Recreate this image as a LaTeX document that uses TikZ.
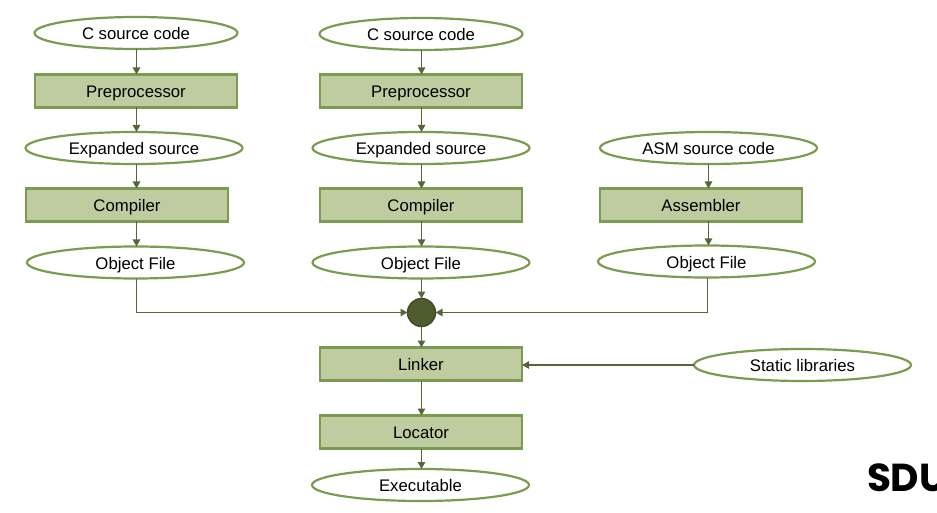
\documentclass[tikz,border=0pt]{standalone}
\usepackage{fontspec}
\setmainfont{Liberation Sans}
\newfontfamily\logofont{Poppins}
\usetikzlibrary{shapes.geometric,arrows.meta}
\definecolor{boxfill}{HTML}{BECC9F}
\definecolor{edge}{HTML}{7B9B50}
\definecolor{wire}{HTML}{56663A}
\definecolor{dotfill}{HTML}{4E5C2E}
\definecolor{dotedge}{HTML}{3F4C26}
\tikzset{
  x=1pt,y=-1pt,
  every node/.style={inner sep=0pt,outer sep=0pt,font=\fontsize{16.75}{18}\selectfont,text=black},
  procbox/.style={rectangle,draw=edge,fill=boxfill,line width=2.2pt,minimum width=202pt,minimum height=33pt,text height=14.5pt,text depth=2pt},
  dataoval/.style={ellipse,draw=edge,fill=white,line width=2.2pt,minimum width=217pt,minimum height=32pt,text height=15pt,text depth=1.5pt},
  wirearrow/.style={draw=wire,line width=1.15pt,-{Triangle[length=7pt,width=7.5pt]}},
}
\begin{document}
\begin{tikzpicture}
\useasboundingbox (0,0) rectangle (937,513);
\clip (0,0) rectangle (937,513);
% column 1
\node[dataoval,minimum width=203pt] (c1) at (136,33) {C source code};
\node[procbox] (p1) at (136,91) {Preprocessor};
\node[dataoval] (e1) at (134,148) {Expanded source};
\node[procbox] (k1) at (127,205) {Compiler};
\node[dataoval] (o1) at (135.5,262.5) {Object File};
% column 2
\node[dataoval,minimum width=203pt] (c2) at (421,34) {C source code};
\node[procbox] (p2) at (421,91) {Preprocessor};
\node[dataoval] (e2) at (421,148) {Expanded source};
\node[procbox] (k2) at (421,205) {Compiler};
\node[dataoval] (o2) at (421,262.5) {Object File};
% column 3
\node[dataoval] (a3) at (708.5,148) {ASM source code};
\node[procbox] (k3) at (701,205) {Assembler};
\node[dataoval] (o3) at (706.5,261.5) {Object File};
% merge and below
\node[circle,draw=dotedge,fill=dotfill,line width=1.4pt,minimum size=28pt] (m) at (421.5,312.5) {};
\node[procbox] (l) at (421,364) {Linker};
\node[procbox] (t) at (421,432) {Locator};
\node[dataoval] (x) at (420.5,485) {Executable};
\node[dataoval] (s) at (802.5,365) {Static libraries};
\node[anchor=base west,font=\logofont\bfseries\fontsize{39}{39}\selectfont] (logo) at (867,491) {SDU};
% helper verticals
\coordinate (v1) at (136.5,0);
\coordinate (v2) at (421.5,0);
\coordinate (v3) at (708.5,0);
\coordinate (v4) at (707.5,0);
% connectors
\draw[wirearrow] (v1 |- c1.south) -- (v1 |- p1.north);
\draw[wirearrow] (v1 |- p1.south) -- (v1 |- e1.north);
\draw[wirearrow] (v1 |- e1.south) -- (v1 |- k1.north);
\draw[wirearrow] (v1 |- k1.south) -- (v1 |- o1.north);
\draw[wirearrow] (v2 |- c2.south) -- (v2 |- p2.north);
\draw[wirearrow] (v2 |- p2.south) -- (v2 |- e2.north);
\draw[wirearrow] (v2 |- e2.south) -- (v2 |- k2.north);
\draw[wirearrow] (v2 |- k2.south) -- (v2 |- o2.north);
\draw[wirearrow] (v3 |- a3.south) -- (v3 |- k3.north);
\draw[wirearrow] (v3 |- k3.south) -- (v3 |- o3.north);
\draw[wirearrow] (v1 |- o1.south) |- (m.west);
\draw[wirearrow] (v4 |- o3.south) |- (m.east);
\draw[wirearrow] (v2 |- o2.south) -- (m.north);
\draw[wirearrow] (m.south) -- (v2 |- l.north);
\draw[wirearrow] (s.west) -- (s.west -| l.east);
\draw[wirearrow] (v2 |- l.south) -- (v2 |- t.north);
\draw[wirearrow] (v2 |- t.south) -- (v2 |- x.north);
\end{tikzpicture}
\end{document}
